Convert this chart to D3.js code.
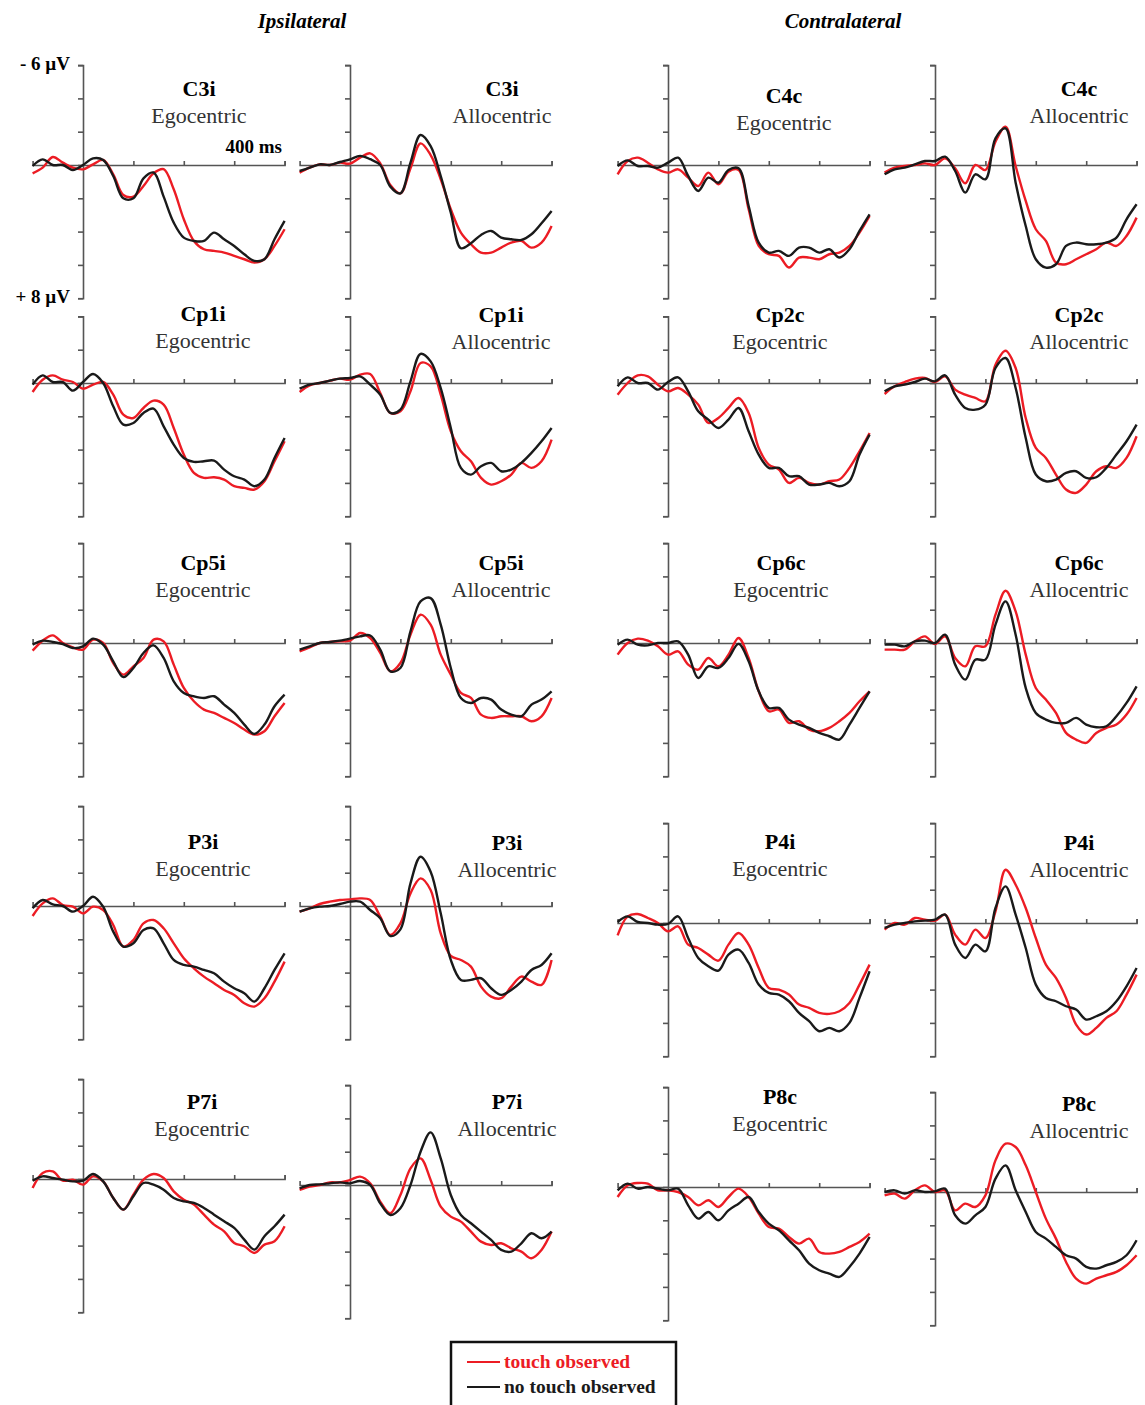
<!DOCTYPE html>
<html>
<head>
<meta charset="utf-8">
<script src="https://cdn.jsdelivr.net/npm/d3@7"></script>
<style>
  body { margin: 0; background: #fff; }
  svg text { font-family: "Liberation Serif", "Times New Roman", serif; }
</style>
</head>
<body>
<svg id="chart" width="1145" height="1405"></svg>
<script>
// sample times (ms) for every waveform
const times = [-100, -80, -60, -40, -20, 0, 20, 40, 60, 80, 100, 120, 140, 160, 180, 200, 220, 240, 260, 280, 300, 320, 340, 360, 380, 400];

const sideHeaders = ['Ipsilateral', 'Contralateral'];
const electrodes = [
  ['C3i', 'C3i', 'C4c', 'C4c'],
  ['Cp1i', 'Cp1i', 'Cp2c', 'Cp2c'],
  ['Cp5i', 'Cp5i', 'Cp6c', 'Cp6c'],
  ['P3i', 'P3i', 'P4i', 'P4i'],
  ['P7i', 'P7i', 'P8c', 'P8c']
];
const frames = ['Egocentric', 'Allocentric', 'Egocentric', 'Allocentric'];
const conditions = ['touch observed', 'no touch observed'];

// amplitudes in µV (negative up), touch observed / no touch observed
const c3iEgoTouch = [0.5, 0.16, -0.48, -0.14, 0.16, 0.26, -0.04, -0.3, 0.56, 1.8, 1.9, 1.26, 0.5, 0.25, 1.46, 3.26, 4.56, 5.06, 5.16, 5.26, 5.46, 5.66, 5.86, 5.66, 4.86, 3.86];
const c3iEgoNoTouch = [0.06, -0.34, 0, 0, 0.3, 0, -0.4, -0.3, 0.66, 2.0, 2.0, 0.8, 0.45, 1.9, 3.46, 4.36, 4.56, 4.56, 4.06, 4.46, 4.86, 5.36, 5.76, 5.66, 4.46, 3.36];
const c3iAlloTouch = [0.46, 0.16, -0.04, 0, -0.14, -0.08, -0.44, -0.7, -0.1, 1.2, 1.7, 0.2, -1.3, -0.6, 0.86, 2.66, 4.06, 4.76, 5.26, 5.26, 4.96, 4.66, 4.56, 4.96, 4.66, 3.66];
const c3iAlloNoTouch = [0.36, 0.16, -0.04, 0, -0.18, -0.34, -0.55, -0.35, 0.0, 1.3, 1.7, -0.14, -1.8, -1.14, 0.66, 2.86, 5.0, 4.7, 4.2, 3.96, 4.36, 4.46, 4.5, 4.16, 3.5, 2.76];
const c4cEgoTouch = [0.56, -0.24, -0.44, -0.14, 0.26, 0.46, 0.26, 0.76, 1.26, 0.46, 1.16, 0.4, 0.3, 2.66, 4.86, 5.36, 5.46, 6.16, 5.56, 5.56, 5.66, 5.36, 5.26, 4.86, 4.06, 3.06];
const c4cEgoNoTouch = [0.06, -0.28, 0.06, 0.06, 0.16, -0.14, -0.44, 0.66, 1.56, 0.76, 1.06, 0.3, 0.2, 2.46, 4.66, 5.26, 5.16, 5.46, 4.96, 4.96, 5.26, 5.06, 5.56, 5.06, 3.96, 2.96];
const c4cAlloTouch = [0.46, 0.16, 0.06, 0, -0.1, 0, -0.4, 0.2, 1.1, 0, 0.3, -1.4, -2.3, 0.06, 2.16, 3.86, 4.56, 5.86, 5.96, 5.66, 5.36, 5.06, 4.66, 4.86, 4.26, 3.16];
const c4cAlloNoTouch = [0.56, 0.26, 0.16, -0.04, -0.24, -0.24, -0.5, 0.36, 1.66, 0.56, 0.86, -1.6, -2.2, 1.06, 3.66, 5.66, 6.16, 5.96, 4.86, 4.66, 4.76, 4.76, 4.66, 4.36, 3.26, 2.36];

const cp1iEgoTouch = [0.54, -0.2, -0.46, -0.2, -0.06, 0.34, 0.1, -0.06, 0.7, 1.9, 2.1, 1.5, 1.06, 1.3, 2.7, 4.3, 5.4, 5.7, 5.66, 5.8, 6.2, 6.3, 6.4, 5.9, 4.7, 3.5];
const cp1iEgoNoTouch = [0.1, -0.46, -0.06, -0.06, 0.46, -0.06, -0.54, 0, 1.4, 2.5, 2.4, 1.8, 1.54, 2.6, 3.7, 4.5, 4.74, 4.7, 4.66, 5.2, 5.6, 5.8, 6.2, 5.8, 4.5, 3.3];
const cp1iAlloTouch = [0.54, 0.14, 0, -0.14, -0.26, -0.2, -0.5, -0.54, 0.6, 1.8, 1.7, 0.5, -1.2, -1.0, 0.7, 2.9, 4.1, 4.7, 5.7, 6.1, 5.9, 5.5, 4.8, 5.1, 4.7, 3.4];
const cp1iAlloNoTouch = [0.34, 0.1, 0, -0.14, -0.26, -0.3, -0.4, 0.1, 0.7, 1.8, 1.6, -0.1, -1.75, -1.3, 0.3, 2.7, 5.1, 5.5, 5.0, 4.8, 5.3, 5.2, 4.8, 4.2, 3.5, 2.7];
const cp2cEgoTouch = [0.7, 0, -0.46, -0.4, 0.1, 0.5, 0.3, 0.7, 1.3, 2.4, 2.1, 1.5, 0.9, 1.8, 3.9, 4.9, 5.2, 6.0, 5.7, 6.0, 6.1, 5.9, 5.8, 5.1, 4.1, 3.0];
const cp2cEgoNoTouch = [0.2, -0.34, 0, 0, 0.4, -0.06, -0.34, 0.5, 1.7, 2.2, 2.7, 2.2, 1.5, 2.9, 4.3, 5.1, 5.1, 5.6, 5.6, 6.1, 6.1, 6.0, 6.2, 5.9, 4.3, 3.1];
const cp2cAlloTouch = [0.66, 0.2, -0.06, -0.26, -0.3, -0.06, -0.4, 0.4, 0.7, 0.9, 1.1, -1.1, -1.94, -0.9, 2.1, 3.9, 4.5, 5.5, 6.4, 6.6, 6.1, 5.3, 5.0, 5.1, 4.5, 3.2];
const cp2cAlloNoTouch = [0.5, 0.2, 0.1, -0.06, -0.26, -0.1, -0.46, 0.7, 1.5, 1.6, 1.3, -0.9, -1.5, 0.3, 3.3, 5.5, 5.9, 5.8, 5.4, 5.3, 5.7, 5.66, 5.1, 4.3, 3.5, 2.5];

const cp5iEgoTouch = [0.46, -0.14, -0.46, 0, 0.26, 0.4, -0.2, 0, 1.2, 1.9, 1.4, 0.9, -0.2, -0.1, 1.3, 2.7, 3.5, 4.0, 4.2, 4.5, 4.8, 5.2, 5.5, 5.3, 4.4, 3.6];
const cp5iEgoNoTouch = [0.1, -0.14, -0.06, 0.06, 0.3, 0.2, -0.26, 0.1, 1.1, 2.05, 1.5, 0.6, 0.14, 0.9, 2.3, 3.0, 3.2, 3.3, 3.2, 3.7, 4.2, 4.9, 5.46, 4.9, 3.8, 3.1];
const cp5iAlloTouch = [0.5, 0.26, 0, -0.06, -0.1, -0.14, -0.6, -0.3, 0.6, 1.7, 1.2, -0.5, -1.7, -1.1, 0.7, 1.9, 3.0, 3.3, 4.3, 4.5, 4.4, 4.4, 4.4, 4.7, 4.4, 3.3];
const cp5iAlloNoTouch = [0.4, 0.2, 0, -0.06, -0.14, -0.26, -0.4, -0.45, 0.4, 1.7, 1.5, -0.7, -2.5, -2.7, -1.1, 1.5, 3.3, 3.6, 3.3, 3.4, 4.0, 4.3, 4.4, 3.7, 3.4, 2.9];
const cp6cEgoTouch = [0.7, 0, -0.26, -0.14, 0.2, 0.7, 0.5, 1.3, 1.6, 0.9, 1.4, 0.7, -0.3, 0.9, 2.9, 4.1, 4.0, 4.8, 4.7, 5.2, 5.3, 5.1, 4.7, 4.2, 3.5, 2.9];
const cp6cEgoNoTouch = [0.1, -0.2, 0.1, 0.14, 0, 0, -0.1, 0.7, 2.1, 1.4, 1.5, 0.9, 0.05, 1.1, 2.9, 3.9, 3.9, 4.6, 4.9, 5.1, 5.4, 5.6, 5.8, 4.9, 3.9, 2.9];
const cp6cAlloTouch = [0.4, 0.4, 0.4, -0.1, -0.4, 0.06, -0.4, 0.9, 1.4, 0.2, 0.2, -1.7, -3.14, -1.9, 0.7, 2.7, 3.4, 4.2, 5.4, 5.8, 6.0, 5.4, 5.1, 4.9, 4.3, 3.3];
const cp6cAlloNoTouch = [0.1, 0.1, 0.2, -0.1, -0.14, 0, -0.5, 1.3, 2.2, 1.0, 1.0, -1.1, -2.5, -0.5, 2.7, 4.2, 4.6, 4.8, 4.8, 4.5, 4.9, 5.06, 5.0, 4.4, 3.6, 2.6];

const p3iEgoTouch = [0.6, -0.16, -0.46, -0.06, 0.04, 0.44, 0.04, 0.24, 1.14, 2.44, 2.04, 1.04, 0.84, 1.34, 2.24, 3.14, 3.74, 4.24, 4.64, 5.04, 5.34, 5.84, 6.04, 5.54, 4.54, 3.34];
const p3iEgoNoTouch = [0.14, -0.36, -0.1, 0, 0.34, 0, -0.56, 0.04, 1.54, 2.44, 2.24, 1.44, 1.34, 2.24, 3.24, 3.54, 3.64, 3.84, 4.04, 4.54, 4.94, 5.24, 5.74, 4.94, 3.84, 2.84];
const p3iAlloTouch = [0.34, 0.14, -0.12, -0.26, -0.36, -0.4, -0.46, -0.36, 0.64, 1.74, 1.04, -0.76, -1.66, -0.96, 1.64, 3.0, 3.24, 3.64, 4.84, 5.44, 5.54, 4.84, 4.24, 4.54, 4.74, 3.24];
const p3iAlloNoTouch = [0.34, 0.14, 0.04, 0, -0.12, -0.26, -0.26, 0.24, 0.74, 1.8, 1.4, -1.36, -2.96, -2.06, 0.44, 3.24, 4.44, 4.44, 4.34, 4.94, 5.34, 5.04, 4.54, 3.84, 3.54, 2.84];
const p4iEgoTouch = [0.74, -0.4, -0.54, -0.3, 0, 0.5, 0.2, 1.3, 1.5, 1.9, 2.26, 1.3, 0.6, 1.3, 2.7, 3.9, 4.0, 4.3, 4.9, 5.1, 5.4, 5.46, 5.3, 4.8, 3.7, 2.5];
const p4iEgoNoTouch = [-0.06, -0.4, -0.06, 0, 0.1, 0.06, -0.4, 0.9, 2.1, 2.6, 2.86, 1.9, 1.6, 2.4, 3.7, 4.2, 4.3, 4.7, 5.4, 5.9, 6.5, 6.3, 6.5, 6.0, 4.5, 2.9];
const p4iAlloTouch = [0.4, 0, 0.1, -0.3, -0.2, -0.14, -0.5, 0.7, 1.3, 0.4, 0.9, -0.7, -3.2, -2.3, -0.9, 0.9, 2.5, 3.3, 4.5, 6.1, 6.7, 6.3, 5.7, 5.3, 4.3, 3.1];
const p4iAlloNoTouch = [0.3, 0.1, 0, -0.1, -0.14, -0.2, -0.5, 1.3, 2.1, 1.3, 1.7, -0.9, -2.2, -0.5, 1.5, 3.7, 4.5, 4.7, 5.0, 5.2, 5.8, 5.6, 5.3, 4.7, 3.8, 2.7];

const p7iEgoTouch = [0.54, -0.36, -0.46, 0.1, 0.04, 0.34, -0.16, 0.14, 1.14, 1.84, 0.94, 0.04, -0.3, -0.06, 0.74, 1.24, 1.54, 2.14, 2.74, 3.14, 3.84, 4.04, 4.44, 3.94, 3.74, 2.84];
const p7iEgoNoTouch = [0.1, -0.16, -0.06, 0.04, 0.14, 0.1, -0.3, 0.14, 1.14, 1.84, 1.04, 0.24, 0.34, 0.64, 1.14, 1.34, 1.44, 1.74, 2.14, 2.54, 2.94, 3.64, 4.24, 3.44, 2.84, 2.14];
const p7iAlloTouch = [0.3, 0.1, 0, -0.16, -0.16, -0.3, -0.5, -0.1, 1.0, 1.7, 0.6, -1.0, -1.6, -0.3, 1.3, 1.9, 2.2, 2.8, 3.4, 3.6, 3.5, 3.8, 4.0, 4.4, 3.9, 2.8];
const p7iAlloNoTouch = [0.2, 0, -0.04, -0.1, -0.16, -0.1, -0.24, 0, 1.1, 1.8, 1.4, 0, -2.0, -3.16, -1.6, 0.6, 1.8, 2.3, 2.8, 3.3, 3.9, 4.0, 3.5, 2.9, 3.2, 2.8];
const p8cEgoTouch = [0.6, -0.1, -0.24, -0.2, 0.2, 0.2, 0.3, 0.6, 1.1, 0.8, 1.2, 0.6, 0.1, 0.6, 1.6, 2.4, 2.5, 3.0, 3.4, 3.1, 3.9, 4.0, 3.9, 3.6, 3.3, 2.8];
const p8cEgoNoTouch = [0.2, -0.2, 0.1, 0, 0.1, 0.2, 0.1, 1.1, 1.9, 1.5, 2.0, 1.4, 1.0, 0.6, 1.5, 2.2, 2.6, 3.2, 3.8, 4.6, 5.0, 5.2, 5.4, 4.8, 4.0, 3.0];
const p8cAlloTouch = [0.2, 0.1, 0.4, -0.1, -0.4, 0, -0.1, 1.1, 0.7, 0.9, 0.2, -1.9, -2.9, -2.7, -1.6, 0, 1.6, 2.8, 4.2, 5.2, 5.5, 5.2, 5.0, 4.8, 4.4, 3.8];
const p8cAlloNoTouch = [0, -0.1, 0.1, -0.1, 0, -0.04, -0.2, 1.4, 1.9, 1.4, 0.9, -0.8, -1.6, -0.1, 1.2, 2.4, 2.8, 3.3, 3.8, 4.0, 4.5, 4.6, 4.4, 4.2, 3.8, 2.9];

// [touch, no touch] for each panel, row by row
const series = [
  [[c3iEgoTouch, c3iEgoNoTouch], [c3iAlloTouch, c3iAlloNoTouch], [c4cEgoTouch, c4cEgoNoTouch], [c4cAlloTouch, c4cAlloNoTouch]],
  [[cp1iEgoTouch, cp1iEgoNoTouch], [cp1iAlloTouch, cp1iAlloNoTouch], [cp2cEgoTouch, cp2cEgoNoTouch], [cp2cAlloTouch, cp2cAlloNoTouch]],
  [[cp5iEgoTouch, cp5iEgoNoTouch], [cp5iAlloTouch, cp5iAlloNoTouch], [cp6cEgoTouch, cp6cEgoNoTouch], [cp6cAlloTouch, cp6cAlloNoTouch]],
  [[p3iEgoTouch, p3iEgoNoTouch], [p3iAlloTouch, p3iAlloNoTouch], [p4iEgoTouch, p4iEgoNoTouch], [p4iAlloTouch, p4iAlloNoTouch]],
  [[p7iEgoTouch, p7iEgoNoTouch], [p7iAlloTouch, p7iAlloNoTouch], [p8cEgoTouch, p8cEgoNoTouch], [p8cAlloTouch, p8cAlloNoTouch]]
];

// ---- layout (pixels) ----
const colAxisX = [83, 350, 668, 935];          // x of the 0 ms line in each column
const zeroY = [
  [165, 165, 165, 165],
  [383, 383, 383, 383],
  [643, 643, 643, 643],
  [906, 906, 923, 923],
  [1179, 1185, 1187, 1192]
];
const titlePos = [
  [[199, 89], [502, 89], [784, 96], [1079, 89]],
  [[203, 314], [501, 315], [780, 315], [1079, 315]],
  [[203, 563], [501, 563], [781, 563], [1079, 563]],
  [[203, 842], [507, 843], [780, 842], [1079, 843]],
  [[202, 1102], [507, 1102], [780, 1097], [1079, 1104]]
];
const pxPerMs = 0.504;
const pxPerUv = 16.65;
const colors = ['#ec1c24', '#1a1a1a'];
const axisColor = '#555';

const svg = d3.select('#chart');

svg.selectAll('text.side')
  .data(sideHeaders)
  .join('text')
  .attr('class', 'side')
  .attr('x', (d, i) => [302, 843][i])
  .attr('y', 28)
  .attr('text-anchor', 'middle')
  .style('font-size', '21px')
  .style('font-weight', 'bold')
  .style('font-style', 'italic')
  .text(d => d);

electrodes.forEach((row, r) => {
  row.forEach((name, c) => {
    const g = svg.append('g');
    const x0 = colAxisX[c];
    const z = zeroY[r][c];
    const topUv = r === 1 ? -4 : -6;

    const x = d3.scaleLinear()
      .domain([-100, 400])
      .range([x0 - 100 * pxPerMs, x0 + 400 * pxPerMs]);
    const y = d3.scaleLinear()
      .domain([topUv, 8])
      .range([z + topUv * pxPerUv, z + 8 * pxPerUv]);

    // vertical amplitude axis
    g.append('g')
      .attr('transform', `translate(${x0},0)`)
      .call(d3.axisLeft(y)
        .tickValues(d3.range(topUv, 9, 2))
        .tickSize(5)
        .tickSizeOuter(5)
        .tickFormat(''));

    // horizontal time axis along 0 µV
    g.append('g')
      .attr('transform', `translate(0,${z})`)
      .call(d3.axisTop(x)
        .tickValues([100, 200, 300, 400])
        .tickSize(4)
        .tickSizeOuter(4)
        .tickFormat(''));

    g.selectAll('path.domain, line')
      .attr('stroke', axisColor)
      .attr('stroke-width', 1.6);

    const line = d3.line()
      .x((d, i) => x(times[i]))
      .y(d => y(d))
      .curve(d3.curveCatmullRom.alpha(0.5));

    g.selectAll('path.wave')
      .data(series[r][c])
      .join('path')
      .attr('class', 'wave')
      .attr('d', line)
      .attr('fill', 'none')
      .attr('stroke', (d, i) => colors[i])
      .attr('stroke-width', 2.4)
      .attr('stroke-linejoin', 'round');

    const [tx, ty] = titlePos[r][c];
    g.append('text')
      .attr('x', tx).attr('y', ty + 7)
      .attr('text-anchor', 'middle')
      .style('font-size', '22px')
      .style('font-weight', 'bold')
      .text(name);
    g.append('text')
      .attr('x', tx).attr('y', ty + 34)
      .attr('text-anchor', 'middle')
      .style('font-size', '22px')
      .attr('fill', '#333')
      .text(frames[c]);
  });
});

// scale annotations on the first panel
svg.append('text').attr('x', 70).attr('y', 70).attr('text-anchor', 'end')
  .style('font-size', '19px').style('font-weight', 'bold').text('- 6 µV');
svg.append('text').attr('x', 70).attr('y', 303).attr('text-anchor', 'end')
  .style('font-size', '19px').style('font-weight', 'bold').text('+ 8 µV');
svg.append('text').attr('x', 282).attr('y', 153).attr('text-anchor', 'end')
  .style('font-size', '19px').style('font-weight', 'bold').text('400 ms');

// legend
const legend = svg.append('g');
legend.append('rect')
  .attr('x', 451).attr('y', 1342).attr('width', 225).attr('height', 80)
  .attr('fill', '#fff').attr('stroke', '#111').attr('stroke-width', 2.5);
legend.selectAll('line')
  .data(conditions)
  .join('line')
  .attr('x1', 467).attr('x2', 500)
  .attr('y1', (d, i) => 1362 + i * 25).attr('y2', (d, i) => 1362 + i * 25)
  .attr('stroke', (d, i) => colors[i])
  .attr('stroke-width', 1.8);
legend.selectAll('text')
  .data(conditions)
  .join('text')
  .attr('x', 504)
  .attr('y', (d, i) => 1368 + i * 25)
  .attr('fill', (d, i) => colors[i])
  .style('font-size', '19.5px')
  .style('font-weight', 'bold')
  .text(d => d);
</script>
</body>
</html>
